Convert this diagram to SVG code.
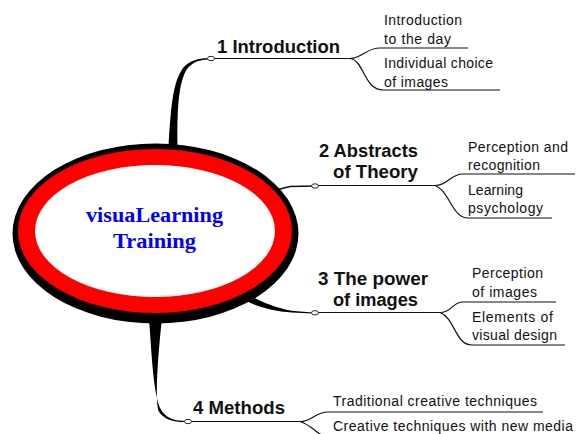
<svg xmlns="http://www.w3.org/2000/svg" width="577" height="434" viewBox="0 0 577 434">
<style>
.main{font-family:"Liberation Sans",Arial,sans-serif;font-weight:bold;font-size:18px;fill:#111}
.sub{font-family:"Liberation Sans",Arial,sans-serif;font-size:14px;fill:#111}
.center{font-family:"Liberation Serif","Times New Roman",serif;font-weight:bold;font-size:20px;fill:#0000ff}
.ln{fill:none;stroke:#111;stroke-width:1.2}
.thick{fill:#000;stroke:none}
.dot{fill:#fff;stroke:#222;stroke-width:1}
</style>
<rect width="577" height="434" fill="#fff"/>
<g id="connectors">
  <path class="thick" d="M168.5,146 C171,105 173,82 183,68 C190,60 199,58.2 209,58.3 L209,59.5 C200,59.8 193,61.5 187,69 C179,82 177,105 177.5,146 Z"/>
  <path class="ln" d="M211,58.5 L350,58.5"/>
  <path class="ln" d="M350,58.5 C362,58.5 366,48 380,48 L468,48"/>
  <path class="ln" d="M350,58.5 C364,60 364,90 383,90 L500,90"/>
  <path class="ln" style="stroke-width:1.7" d="M272,191 L290,186.5 L315,186"/>
  <path class="ln" d="M315,185.5 L435,185.5"/>
  <path class="ln" d="M435,185.5 C448,185.5 450,174 463,174 L575,174"/>
  <path class="ln" d="M435,185.5 C449,190 452,218 468,218 L552,218"/>
  <path class="thick" d="M244,292 C260,302 280,309.5 297,311.3 L313,312.5 L313,313.4 L297,312.8 C280,312 262,309 244,300 Z"/>
  <path class="ln" d="M315,312.5 L440,312.5"/>
  <path class="ln" d="M440,312.5 C452,312.5 452,302 463,302 L556,302"/>
  <path class="ln" d="M440,312.5 C455,318 455,345 472,345 L565,345"/>
  <path class="thick" d="M149,318 C152,360 153.5,392 160,408 C166,419 175,420.8 186,420.9 L186,422.1 C174,422.4 164,420 158.5,411 C155,398 157.5,360 162,318 Z"/>
  <path class="ln" d="M188,421.5 L300,421.5"/>
  <path class="ln" d="M300,421.5 C312,421.5 315,412 328,412 L543,412"/>
  <path class="ln" d="M300,421.5 C311,425 315,432 325,437 L575,437"/>
</g>
<g id="center">
  <ellipse cx="155.5" cy="233.5" rx="143" ry="90" fill="#000"/>
  <ellipse cx="155" cy="231" rx="137" ry="82" fill="#ff0000"/>
  <ellipse cx="155" cy="231" rx="120" ry="66" fill="#fff"/>
  <text class="center" x="86" y="222" textLength="137" lengthAdjust="spacingAndGlyphs">visuaLearning</text>
  <text class="center" x="113" y="248" textLength="83" lengthAdjust="spacingAndGlyphs">Training</text>
</g>
<g id="n1">
  <ellipse class="dot" cx="211" cy="58.5" rx="3.5" ry="2.2"/>
  <text class="main" x="217" y="53" textLength="123" lengthAdjust="spacingAndGlyphs">1 Introduction</text>
</g>
<g id="n1a"><text class="sub" x="384" y="25" textLength="78">Introduction</text><text class="sub" x="384" y="44" textLength="67">to the day</text></g>
<g id="n1b"><text class="sub" x="384" y="68" textLength="109">Individual choice</text><text class="sub" x="384" y="87" textLength="64">of images</text></g>
<g id="n2">
  <ellipse class="dot" cx="315" cy="186" rx="3.5" ry="2.2"/>
  <text class="main" x="319" y="157" textLength="99" lengthAdjust="spacingAndGlyphs">2 Abstracts</text>
  <text class="main" x="333" y="178" textLength="85" lengthAdjust="spacingAndGlyphs">of Theory</text>
</g>
<g id="n2a"><text class="sub" x="468" y="152" textLength="100">Perception and</text><text class="sub" x="468" y="170" textLength="72">recognition</text></g>
<g id="n2b"><text class="sub" x="468" y="195" textLength="55">Learning</text><text class="sub" x="468" y="213" textLength="75">psychology</text></g>
<g id="n3">
  <ellipse class="dot" cx="315" cy="312.8" rx="3.5" ry="2.2"/>
  <text class="main" x="318" y="285" textLength="110" lengthAdjust="spacingAndGlyphs">3 The power</text>
  <text class="main" x="333" y="306" textLength="85" lengthAdjust="spacingAndGlyphs">of images</text>
</g>
<g id="n3a"><text class="sub" x="472" y="278" textLength="71">Perception</text><text class="sub" x="472" y="297" textLength="65">of images</text></g>
<g id="n3b"><text class="sub" x="472" y="322" textLength="81">Elements of</text><text class="sub" x="472" y="340" textLength="85">visual design</text></g>
<g id="n4">
  <ellipse class="dot" cx="188" cy="421.5" rx="3.5" ry="2.2"/>
  <text class="main" x="193" y="414" textLength="92" lengthAdjust="spacingAndGlyphs">4 Methods</text>
</g>
<g id="n4a"><text class="sub" x="333" y="406" textLength="204">Traditional creative techniques</text></g>
<g id="n4b"><text class="sub" x="333" y="431" textLength="240">Creative techniques with new media</text></g>
</svg>
